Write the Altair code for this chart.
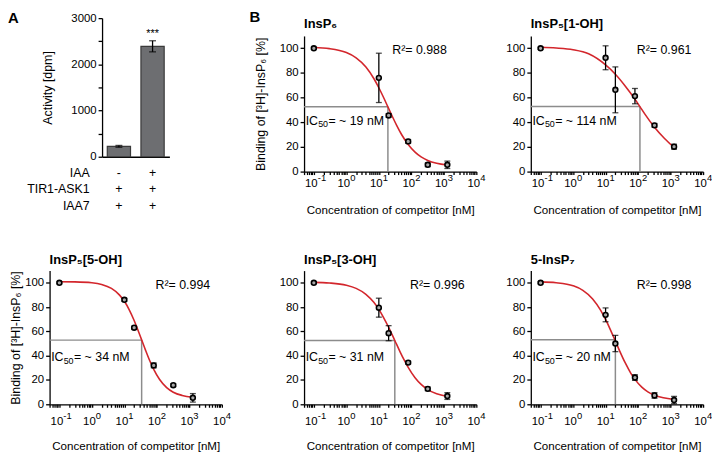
import altair as alt
import pandas as pd

FONT = "Liberation Sans"

# ---------------- Panel A data ----------------
a_labels = ["-|+|+", "+|+|+"]          # IAA | TIR1-ASK1 | IAA7 per bar
a_row_names = ["IAA", "TIR1-ASK1", "IAA7"]
a_activity = [225, 2390]
a_error = [20, 120]
a_signif = ["", "***"]

# ---------------- Panel B data ----------------
conc = [0.1, 10, 20, 80, 320, 1280]

names = ["InsP₆", "InsP₅[1-OH]", "InsP₅[5-OH]", "InsP₅[3-OH]", "5-InsP₇"]
r2_text = ["R²= 0.988", "R²= 0.961", "R²= 0.994", "R²= 0.996", "R²= 0.998"]
ic50_nm = [19, 114, 34, 31, 20]
ic50_rest = ["= ~ 19 nM", "= ~ 114 nM", "= ~ 34 nM", "= ~ 31 nM", "= ~ 20 nM"]
half_level = [52.5, 52.7, 52.8, 52.5, 53.2]

bind_insp6 = [100, 76, 45.5, 24.5, 5.5, 5.5]
err_insp6 = [0.8, 20, 1.5, 1.5, 1.5, 3]
bind_1oh = [100, 92.3, 66.3, 61.2, 37.5, 20.2]
err_1oh = [0.8, 9.7, 18.6, 6.2, 1.5, 2]
bind_5oh = [100, 86, 63, 32, 15.7, 5.3]
err_5oh = [0.8, 1.2, 1.2, 2, 1.2, 3.5]
bind_3oh = [100, 79.5, 58.5, 34.3, 12.7, 6.8]
err_3oh = [0.8, 7.8, 6.2, 1.2, 1.5, 2.8]
bind_7 = [100, 73.6, 50, 22, 7.3, 3.5]
err_7 = [0.8, 5.7, 6.7, 2.3, 2.3, 3]

# fitted curves
curve_x_insp6 = [0.1, 0.3, 1, 2, 4, 7, 10, 14, 19, 25, 35, 50, 80, 130, 200, 320, 600, 1280]
curve_y_insp6 = [100.6, 99.7, 96.5, 92.3, 84.8, 75.5, 68.0, 60.1, 52.5, 45.7, 37.7, 30.1, 22.0, 15.8, 11.9, 9.0, 6.7, 5.3]
curve_x_1oh = [0.1, 0.3, 1, 3, 10, 20, 40, 80, 114, 160, 320, 640, 1280]
curve_y_1oh = [100.8, 100.2, 98.8, 95.5, 86.5, 79.0, 69.5, 58.8, 52.7, 46.8, 36.0, 27.0, 19.5]
curve_x_5oh = [0.1, 0.3, 1, 2, 4, 7, 10, 14, 20, 27, 34, 45, 60, 80, 120, 200, 320, 600, 1280]
curve_y_5oh = [100.9, 100.75, 100.0, 98.6, 95.35, 90.05, 84.75, 77.95, 68.95, 60.15, 53.0, 44.35, 36.0, 28.75, 20.6, 13.7, 9.95, 7.3, 5.85]
curve_x_3oh = [0.1, 0.3, 1, 2, 4, 7, 10, 14, 20, 31, 45, 60, 80, 130, 200, 320, 600, 1280]
curve_y_3oh = [100.3, 99.8, 98.0, 95.4, 90.5, 83.9, 78.1, 71.4, 63.4, 52.5, 43.2, 36.5, 30.4, 21.9, 16.4, 12.1, 8.6, 6.4]
curve_x_7 = [0.1, 0.3, 1, 2, 4, 7, 10, 14, 20, 27, 40, 60, 80, 130, 200, 320, 600, 1280]
curve_y_7 = [100.7, 100.0, 97.5, 93.8, 86.7, 77.5, 69.8, 61.5, 52.0, 44.0, 34.2, 25.5, 20.5, 14.1, 10.2, 7.4, 5.3, 4.0]

X_MIN, X_MAX = 0.05, 10000
x_decades = [0.1, 1, 10, 100, 1000, 10000]
x_ticks = sorted({round(m * 10.0 ** e, 8) for e in range(-2, 5) for m in range(1, 10)
                  if X_MIN - 1e-9 <= m * 10.0 ** e <= X_MAX + 1e-9})
base_expr = "indexof([0.1, 1, 10, 100, 1000, 10000], datum.value) >= 0 ? '10' : ''"
exp_expr = ("datum.value == 0.1 ? '-1' : datum.value == 1 ? '0' : datum.value == 10 ? '1' : "
            "datum.value == 100 ? '2' : datum.value == 1000 ? '3' : datum.value == 10000 ? '4' : ''")

RED = "#d3262c"
GRAY = "#8c8c8c"
PW = 174   # plot width of each binding panel


def conc_panel(idx, bind, err, cx, cy, top_row, y_title, r2_x, view_w=PW):
    if top_row:
        height = 155
        yscale = alt.Scale(domain=[0, 110], nice=False, range=[155, 18])
        lab_pad, tit_pad = 3, 16
        t_offset = -13
        ic_y = 41
    else:
        height = 135
        yscale = alt.Scale(domain=[0, 110], nice=False)
        lab_pad, tit_pad = 8, 14
        t_offset = 4
        ic_y = 38.5
    main_axis = alt.Axis(values=x_ticks, labelExpr=base_expr, tickSize=3, labelPadding=lab_pad,
                         labelOffset=-3, labelFlush=False, labelOverlap=False, orient="bottom",
                         title="Concentration of competitor [nM]", titlePadding=tit_pad,
                         titleFontSize=11.7, grid=False)
    exp_axis = alt.Axis(values=x_decades, labelExpr=exp_expr, domain=False, ticks=False,
                        labelPadding=lab_pad - 2, labelAlign="left", labelOffset=3.5,
                        labelFontSize=9.5, labelFlush=False, labelOverlap=False, orient="bottom",
                        title=None, grid=False)
    yaxis_kw = dict(values=[0, 20, 40, 60, 80, 100], tickSize=4, labelPadding=2, grid=False)
    if y_title:
        yaxis = alt.Axis(title="Binding of [³H]-InsP₆ [%]", titleFontSize=12.5,
                         titlePadding=12 if top_row else 2, **yaxis_kw)
    else:
        yaxis = alt.Axis(title=None, **yaxis_kw)
    xscale = alt.Scale(type="log", domain=[X_MIN, X_MAX], nice=False, range=[0, PW])

    def X(f, ax=None):
        return alt.X(f, type="quantitative", scale=xscale, axis=ax)

    def Y(f):
        return alt.Y(f, type="quantitative", scale=yscale, axis=yaxis)

    pts = pd.DataFrame({"x": conc, "y": bind,
                        "lo": [b - e for b, e in zip(bind, err)],
                        "hi": [b + e for b, e in zip(bind, err)]})
    curve = pd.DataFrame({"x": cx, "y": cy})
    hline = pd.DataFrame({"x": [X_MIN], "x2": [ic50_nm[idx]], "y": [half_level[idx]]})
    vline = pd.DataFrame({"x": [ic50_nm[idx]], "y": [0], "y2": [half_level[idx]]})
    r2 = pd.DataFrame({"x": [r2_x], "y": [98.5], "t": [r2_text[idx]]})
    ic = pd.DataFrame({"x": [0.056], "y": [ic_y], "a": ["IC"], "b": ["50"], "c": [ic50_rest[idx]]})

    def txt(df, field, size, dx=0, dy=0):
        return alt.Chart(df).mark_text(align="left", baseline="middle", fontSize=size, font=FONT,
                                       color="black", dx=dx, dy=dy).encode(
            x=X("x"), y=Y("y"), text=alt.Text(field, type="nominal"))

    layers = [
        alt.Chart(hline).mark_rule(color=GRAY, strokeWidth=1.5).encode(x=X("x", main_axis), x2="x2", y=Y("y")),
        alt.Chart(vline).mark_rule(color=GRAY, strokeWidth=1.5).encode(x=X("x", exp_axis), y=Y("y"), y2="y2"),
        alt.Chart(curve).mark_line(color=RED, strokeWidth=1.6, interpolate="monotone").encode(x=X("x"), y=Y("y")),
        alt.Chart(pts).mark_rule(color="black", strokeWidth=1.3).encode(x=X("x"), y=Y("lo"), y2="hi"),
        alt.Chart(pts).mark_tick(orient="horizontal", size=6, thickness=1.3, color="black").encode(x=X("x"), y=Y("lo")),
        alt.Chart(pts).mark_tick(orient="horizontal", size=6, thickness=1.3, color="black").encode(x=X("x"), y=Y("hi")),
        alt.Chart(pts).mark_point(shape="circle", filled=True, fill="#a8a8a8", stroke="black",
                                  strokeWidth=1.6, size=24, opacity=1).encode(x=X("x"), y=Y("y")),
        txt(r2, "t", 12.5),
        txt(ic, "a", 12.5),
        txt(ic, "b", 9, dx=12.6, dy=3.5),
        txt(ic, "c", 12.5, dx=23.0),
    ]
    return alt.layer(*layers).resolve_axis(x="independent").properties(
        width=view_w, height=height,
        title=alt.TitleParams(names[idx], anchor="start", frame="group", offset=t_offset,
                              fontSize=13, fontWeight="bold", font=FONT, color="black"))


# ---------------- Panel A chart ----------------
df_a = pd.DataFrame({"lab": a_labels, "act": a_activity,
                     "lo": [v - e for v, e in zip(a_activity, a_error)],
                     "hi": [v + e for v, e in zip(a_activity, a_error)],
                     "sig": a_signif})
ax_a = alt.Axis(labelAngle=0, labelExpr="split(datum.label, '|')", ticks=False, labelPadding=10,
                labelLineHeight=16.5, labelFontSize=12.5, labelBaseline="top", offset=-15,
                title=a_row_names, titleAlign="right", titleAnchor="start", titleX=40, titleY=10,
                titleBaseline="top", titleLineHeight=16.5, titleFontWeight="normal", titleFontSize=12.5,
                titleAngle=0)
xa = alt.X("lab:N", sort=None, scale=alt.Scale(range=[53, 121], paddingInner=0.31, paddingOuter=0.155), axis=ax_a)
ay = alt.Axis(values=[0, 500, 1000, 1500, 2000, 2500, 3000], format="d",
              labelExpr="datum.value % 1000 == 0 ? datum.label : ''", offset=-53,
              tickSize=4, labelPadding=2, title="Activity [dpm]", titleFontSize=12.5, titlePadding=16, grid=False)
ysc = alt.Scale(domain=[0, 3000], nice=False, range=[140, 0])

chart_a = alt.layer(
    alt.Chart(df_a).mark_bar(color="#6d6e71", stroke="#3a3a3a", strokeWidth=1.2).encode(
        x=xa, y=alt.Y("act:Q", scale=ysc, axis=ay)),
    alt.Chart(df_a).mark_rule(color="black", strokeWidth=1.3).encode(
        x=xa, y=alt.Y("lo:Q", scale=ysc, axis=ay), y2="hi:Q"),
    alt.Chart(df_a).mark_tick(orient="horizontal", size=7, thickness=1.3, color="black").encode(
        x=xa, y=alt.Y("lo:Q", scale=ysc, axis=ay)),
    alt.Chart(df_a).mark_tick(orient="horizontal", size=7, thickness=1.3, color="black").encode(
        x=xa, y=alt.Y("hi:Q", scale=ysc, axis=ay)),
    alt.Chart(df_a).mark_text(baseline="alphabetic", dy=-4, fontSize=11, font=FONT, color="black").encode(
        x=xa, y=alt.Y("hi:Q", scale=ysc, axis=ay), text="sig:N"),
).properties(width=202, height=155,
             title=alt.TitleParams("A", anchor="start", frame="group", dx=-42, offset=-14,
                                   fontSize=15, fontWeight="bold", font=FONT, color="black"))

b1 = conc_panel(0, bind_insp6, err_insp6, curve_x_insp6, curve_y_insp6, True, True, 25.8)
b2 = conc_panel(1, bind_1oh, err_1oh, curve_x_1oh, curve_y_1oh, True, False, 91)
c1 = conc_panel(2, bind_5oh, err_5oh, curve_x_5oh, curve_y_5oh, False, True, 91, view_w=186)
c2 = conc_panel(3, bind_3oh, err_3oh, curve_x_3oh, curve_y_3oh, False, False, 91)
c3 = conc_panel(4, bind_7, err_7, curve_x_7, curve_y_7, False, False, 91)

chart = alt.concat(
    chart_a, b1, b2, c1, c2, c3, columns=3,
    spacing={"row": 100, "column": 55}, align="none", bounds="flush",
    title=alt.TitleParams("B", anchor="start", frame="group", dx=202, offset=-14,
                          fontSize=15, fontWeight="bold", font=FONT, color="black"),
).properties(
    padding={"left": 0, "top": 0, "right": 0, "bottom": 0}
).configure_axis(
    labelFont=FONT, titleFont=FONT, labelColor="black", titleColor="black",
    domainColor="black", tickColor="black", domainWidth=1.3, tickWidth=1.3,
    labelFontSize=11.5, titleFontWeight="normal"
).configure_view(stroke=None)

chart.save("out.html", embed_options={"renderer": "svg", "actions": False})
